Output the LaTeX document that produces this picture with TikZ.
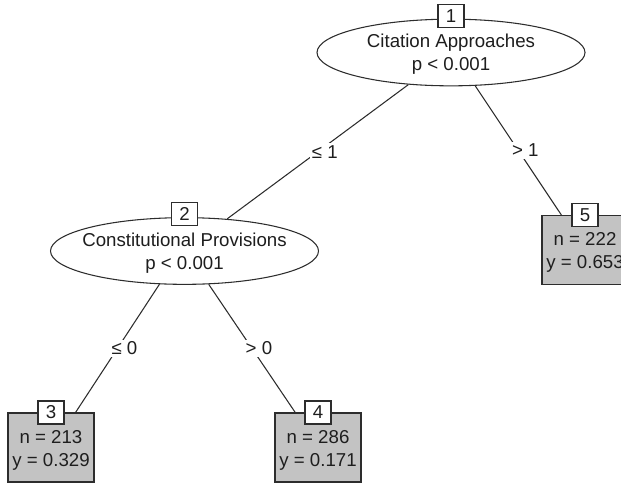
\documentclass[tikz,border=0pt]{standalone}
\usepackage{fontspec}
\setmainfont{Liberation Sans}
\usetikzlibrary{shapes.geometric}

\begin{document}
\begin{tikzpicture}[x=0.75pt,y=-0.75pt,
		knoten/.style={ellipse, draw=linie, fill=white, line width=0.8pt, minimum width=201pt, minimum height=50pt, inner xsep=-12pt, inner ysep=-2pt, align=center, text=schrift, font=\fontsize{14}{17.25}\selectfont},
		blatt/.style={rectangle, draw=linie, fill=blattbg, line width=0.8pt, minimum width=64.5pt, minimum height=51.75pt, inner sep=0pt, align=center, text=schrift, font=\fontsize{14}{17.25}\selectfont},
		nummer/.style={rectangle, draw=linie, fill=white, line width=0.8pt, minimum width=19.5pt, minimum height=17.25pt, inner sep=0pt, text=schrift, font=\fontsize{14}{16}\selectfont},
		kante/.style={draw=linie, line width=0.8pt},
		kantenlabel/.style={fill=white, inner sep=1.5pt, xshift=5.25pt, text=schrift, font=\fontsize{14}{16}\selectfont}]
	
	% Farben
	\definecolor{linie}{RGB}{45,45,45}
	\definecolor{schrift}{RGB}{30,30,30}
	\definecolor{blattbg}{RGB}{195,195,195}
	
	% Rahmen
	\useasboundingbox (0,0) rectangle (621,483);
	
	% Innere Knoten
	\node[knoten] (n1) at (451,52.5) {\rule{0pt}{13pt}Citation Approaches\\p < 0.001};
	\node[knoten] (n2) at (184.5,251) {\rule{0pt}{13pt}Constitutional Provisions\\p < 0.001};
	
	% Endknoten
	\node[blatt] (n3) at (51,447.5) {\rule{0pt}{13.5pt}n = 213\\y = 0.329};
	\node[blatt] (n4) at (318,447.5) {\rule{0pt}{13.5pt}n = 286\\y = 0.171};
	\node[blatt] (n5) at (585,250) {\rule{0pt}{13.5pt}n = 222\\y = 0.653};
	
	% Kanten
	\draw[kante] (n1.217) -- node[kantenlabel] {≤ 1} (n2.37);
	\draw[kante] (n1.306) -- node[kantenlabel] {> 1} (n5.124);
	\draw[kante] (n2.233) -- node[kantenlabel] {≤ 0} (n3.55);
	\draw[kante] (n2.306) -- node[kantenlabel] {> 0} (n4.123);
	
	% Knotennummern
	\node[nummer] (id1) at ([yshift=2.25pt]n1.north) {1};
	\node[nummer] (id2) at ([yshift=2.25pt]n2.north) {2};
	\node[nummer] (id3) at (n3.north) {3};
	\node[nummer] (id4) at (n4.north) {4};
	\node[nummer] (id5) at (n5.north) {5};
	
\end{tikzpicture}
\end{document}
